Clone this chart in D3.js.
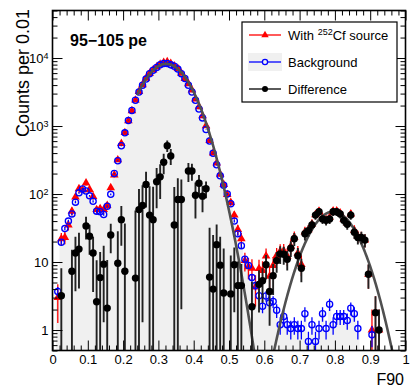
<!DOCTYPE html>
<html><head><meta charset="utf-8">
<script src="https://cdn.jsdelivr.net/npm/d3@7"></script>
<style>
body{margin:0;background:#fff}
svg{display:block}
text{font-family:"Liberation Sans",Arial,Helvetica,sans-serif;fill:#000}
</style>
</head><body>
<svg id="c" width="410" height="390"></svg>
<script>
// ---------------- DATA ----------------
const binWidth = 0.01;                    // F90 bin width
const nBins = 100;                        // bins from 0 to 1
const xTicks = [0,0.1,0.2,0.3,0.4,0.5,0.6,0.7,0.8,0.9,1];
const yTicks = [1,10,100,1000,10000];
const yTickLabels = [["1",""],["10",""],["10","2"],["10","3"],["10","4"]];

// With 252Cf source (counts per bin)
const withCf = [
 null,3.0,22,23,35,56,90,120,115,145,
 117,92,59,61,59,68,124,190,318,555,
 800,1190,1680,2405,3220,4050,5040,5940,6650,7400,
 8120,8610,8830,8300,7620,7000,5970,4990,4200,3380,
 2500,1920,1410,1010,610,402,287,195,138,98,
 75,49,30,22,10.5,8.5,8.1,4.3,8.0,7.5,
 12.3,6.2,8.9,12.5,14.4,14.6,12.2,17,23.2,13.5,
 9.2,27.7,29.7,36.2,49.7,56,44.7,42,45.4,56.2,
 56.6,52.6,42.6,37.4,51,29.2,24,23,21,6.6,
 1.0,1.8,1.0,null,null,null,null,null,null,null];

// Background (scaled)
const background = [
 null,3.7,19.5,31,40,51,76,104,119,111,
 94,78,56,55,50,66,99,200,309,513,
 794,1202,1698,2399,3162,3981,4898,5888,6607,7244,
 7943,8318,8318,7943,7586,6918,5888,5012,3981,3162,
 2399,1778,1318,891,603,398,269,186,135,100,
 72,40,26,17.4,11,8.9,5.9,4.5,3.2,2.24,
 3.16,2.51,2.63,1.95,1.2,1.58,1.2,1.05,1.2,1.05,
 1.05,1.74,0.68,1.2,0.68,1.05,1.74,1.05,2.4,1.2,
 1.58,1.58,1.58,1.38,2.09,1.74,1.05,null,null,null,
 0.85,null,null,null,null,null,null,null,null,null];
const bkgScale = 0.1;   // background normalisation factor

// Difference (Cf - background); null where not positive
const difference = [
 null,null,3.2,null,null,7.3,13.6,15.5,null,34,
 24,13.6,2.6,5.9,9.3,2.1,25,null,9.6,42,
 7.3,null,null,5.8,59,68,138,49,42,152,
 179,293,515,363,35,83,83,null,218,218,
 96,144,93,120,6,4,18,9,3.5,null,
 3.4,9.1,4.5,4.5,null,null,2.2,null,4.7,5.3,
 9.1,3.7,6.3,10.5,13.2,13,11,16,22,12.4,
 8.1,26,29,35,49,55,43,41,43,55,
 55,51,41,36,49,27.5,23,23,21,6.6,
 null,1.8,1.0,null,null,null,null,null,null,null];

// Gaussian fits
const fitLow  = {amp:8200, mean:0.322, sigma:0.0565, from:0.24, to:0.66};
const fitHigh = {amp:55,   mean:0.795, sigma:0.0545, from:0.58, to:1.0};

// ---------------- DRAW ----------------
const svg = d3.select("#c");
const m = {l:52.5, r:405.5, t:10.5, b:350.5};
const x = d3.scaleLinear().domain([0,1]).range([m.l, m.r]);
const y = d3.scaleLog().domain([0.5, 50000]).range([m.b, m.t]);

svg.append("rect").attr("width",410).attr("height",390).attr("fill","#fff");
svg.append("defs").append("clipPath").attr("id","clip")
  .append("rect").attr("x",m.l).attr("y",m.t).attr("width",m.r-m.l).attr("height",m.b-m.t);
const plot = svg.append("g").attr("clip-path","url(#clip)");

const cx = i => x((i+0.5)*binWidth);
const ylo = v => y(Math.max(v, 0.2));

// Background filled histogram
(function(){
  let d = "", open = false, lastX = 0;
  for (let i=0;i<nBins;i++){
    const v = background[i];
    const x0 = x(i*binWidth), x1 = x((i+1)*binWidth);
    if (v == null){
      if (open){ d += `L${lastX},${m.b}Z`; open=false; }
      continue;
    }
    if (!open){ d += `M${x0},${m.b}`; open = true; }
    d += `L${x0},${y(v)}L${x1},${y(v)}`;
    lastX = x1;
  }
  if (open) d += `L${lastX},${m.b}Z`;
  plot.append("path").attr("d",d).attr("fill","#f0f0f0").attr("stroke","none");
})();

function errBars(vals, errFn, color, width){
  const g = plot.append("g").attr("stroke",color).attr("stroke-width",width);
  vals.forEach((v,i)=>{
    if (v==null) return;
    const e = errFn(v,i);
    g.append("line").attr("x1",cx(i)).attr("x2",cx(i))
      .attr("y1",y(v+e)).attr("y2",ylo(v-e));
  });
}

// red: with Cf
errBars(withCf, v=>Math.sqrt(v), "#ff0000", 1.3);
plot.append("g").selectAll("path").data(withCf.map((v,i)=>({v,i})).filter(d=>d.v!=null))
  .join("path")
  .attr("d", d3.symbol(d3.symbolTriangle, 32))
  .attr("transform", d=>`translate(${cx(d.i)},${y(d.v)})`)
  .attr("fill","#ff0000");

// blue: background
errBars(background, v=>Math.sqrt(bkgScale*v), "#0000ff", 1.3);
plot.append("g").selectAll("circle").data(background.map((v,i)=>({v,i})).filter(d=>d.v!=null))
  .join("circle")
  .attr("cx", d=>cx(d.i)).attr("cy", d=>y(d.v)).attr("r",3.1)
  .attr("fill","none").attr("stroke","#0000ff").attr("stroke-width",1.3);

// fits
function fitPath(f){
  const pts = d3.range(f.from, f.to+1e-9, 0.002);
  const g = t => f.amp*Math.exp(-0.5*Math.pow((t-f.mean)/f.sigma,2));
  return d3.line().x(t=>x(t)).y(t=>y(Math.max(g(t),0.05)))(pts);
}
[fitLow, fitHigh].forEach(f=>{
  plot.append("path").attr("d",fitPath(f)).attr("fill","none")
    .attr("stroke","#505050").attr("stroke-width",2.6);
});

// black: difference
errBars(difference, (v,i)=>Math.sqrt((withCf[i]||0) + bkgScale*(background[i]||0)), "#222", 1.9);
plot.append("g").selectAll("circle").data(difference.map((v,i)=>({v,i})).filter(d=>d.v!=null))
  .join("circle")
  .attr("cx", d=>cx(d.i)).attr("cy", d=>y(d.v)).attr("r",3.7)
  .attr("fill","#000");

// ---------------- AXES ----------------
const ax = svg.append("g");
const xMinor = d3.range(0, 51).map(k=>k*0.02).filter(v=>Math.abs(v*10-Math.round(v*10))>1e-6);
const yMinor = [];
for (let e=-1;e<5;e++) for (let k=2;k<10;k++){ const v=k*Math.pow(10,e); if (v>=0.5 && v<=50000) yMinor.push(v); }

function styleAxis(g){ g.select(".domain").remove(); g.selectAll("line").attr("stroke","#000").attr("stroke-width",1); }

// bottom
ax.append("g").attr("transform",`translate(0,${m.b})`)
  .call(d3.axisBottom(x).tickValues(xTicks).tickSize(-10).tickPadding(4).tickFormat(d3.format("~g")))
  .call(styleAxis)
  .call(g=>g.selectAll("text").attr("font-size",13).attr("font-family","Liberation Sans, Arial, sans-serif"));
ax.append("g").attr("transform",`translate(0,${m.b})`)
  .call(d3.axisBottom(x).tickValues(xMinor).tickSize(-5).tickFormat(""))
  .call(styleAxis);
// top
ax.append("g").attr("transform",`translate(0,${m.t})`)
  .call(d3.axisTop(x).tickValues(xTicks).tickSize(-10).tickFormat(""))
  .call(styleAxis);
ax.append("g").attr("transform",`translate(0,${m.t})`)
  .call(d3.axisTop(x).tickValues(xMinor).tickSize(-5).tickFormat(""))
  .call(styleAxis);
// left
const yl = ax.append("g").attr("transform",`translate(${m.l},0)`)
  .call(d3.axisLeft(y).tickValues(yTicks).tickSize(-10).tickPadding(4).tickFormat(""))
  .call(styleAxis);
yl.selectAll(".tick").each(function(d,i){
  const t = d3.select(this).append("text").attr("x",-4).attr("dy","0.36em")
    .attr("text-anchor","end").attr("font-size",13).attr("fill","#000")
    .attr("font-family","Liberation Sans, Arial, sans-serif");
  const lab = yTickLabels[i];
  t.append("tspan").text(lab[0]);
  if (lab[1]) t.append("tspan").attr("dy","-0.5em").attr("font-size",9).text(lab[1]);
});
ax.append("g").attr("transform",`translate(${m.l},0)`)
  .call(d3.axisLeft(y).tickValues(yMinor).tickSize(-5).tickFormat(""))
  .call(styleAxis);
// right
ax.append("g").attr("transform",`translate(${m.r},0)`)
  .call(d3.axisRight(y).tickValues(yTicks).tickSize(-10).tickFormat(""))
  .call(styleAxis);
ax.append("g").attr("transform",`translate(${m.r},0)`)
  .call(d3.axisRight(y).tickValues(yMinor).tickSize(-5).tickFormat(""))
  .call(styleAxis);

// frame
svg.append("rect").attr("x",m.l).attr("y",m.t).attr("width",m.r-m.l).attr("height",m.b-m.t)
  .attr("fill","none").attr("stroke","#000").attr("stroke-width",1.6);

// titles
svg.append("text").attr("x",70).attr("y",46).attr("font-size",16).attr("font-weight","bold")
  .text("95\u2212105 pe");
svg.append("text").attr("transform","translate(28.5,9) rotate(-90)").attr("text-anchor","end")
  .attr("font-size",18).text("Counts per 0.01");
svg.append("text").attr("x",404).attr("y",385).attr("text-anchor","end")
  .attr("font-size",16).text("F90");

// ---------------- LEGEND ----------------
const lg = svg.append("g");
lg.append("rect").attr("x",242).attr("y",22).attr("width",155).attr("height",80)
  .attr("fill","#fff").attr("stroke","#000").attr("stroke-width",1.2);
const rows = [35, 62, 89];
const lx0 = 249, lx1 = 281, lxm = 265, tx = 288;
// row 1
lg.append("line").attr("x1",lx0).attr("x2",lx1).attr("y1",rows[0]).attr("y2",rows[0]).attr("stroke","#ff0000").attr("stroke-width",1.3);
lg.append("path").attr("d",d3.symbol(d3.symbolTriangle,24)).attr("transform",`translate(${lxm},${rows[0]})`).attr("fill","#ff0000");
const t1 = lg.append("text").attr("x",tx).attr("y",rows[0]+5).attr("font-size",13);
t1.append("tspan").text("With ");
t1.append("tspan").attr("dy",-5).attr("font-size",9).text("252");
t1.append("tspan").attr("dy",5).text("Cf source");
// row 2
lg.append("rect").attr("x",248).attr("y",rows[1]-9).attr("width",34).attr("height",18).attr("fill","#f0f0f0");
lg.append("line").attr("x1",lx0).attr("x2",lx1).attr("y1",rows[1]).attr("y2",rows[1]).attr("stroke","#0000ff").attr("stroke-width",1.3);
lg.append("circle").attr("cx",lxm).attr("cy",rows[1]).attr("r",2.6).attr("fill","#f0f0f0").attr("stroke","#0000ff").attr("stroke-width",1.3);
lg.append("text").attr("x",tx).attr("y",rows[1]+5).attr("font-size",13).text("Background");
// row 3
lg.append("line").attr("x1",lx0).attr("x2",lx1).attr("y1",rows[2]).attr("y2",rows[2]).attr("stroke","#000").attr("stroke-width",1.3);
lg.append("circle").attr("cx",lxm).attr("cy",rows[2]).attr("r",3).attr("fill","#000");
lg.append("text").attr("x",tx).attr("y",rows[2]+5).attr("font-size",13).text("Difference");
</script>
</body></html>
